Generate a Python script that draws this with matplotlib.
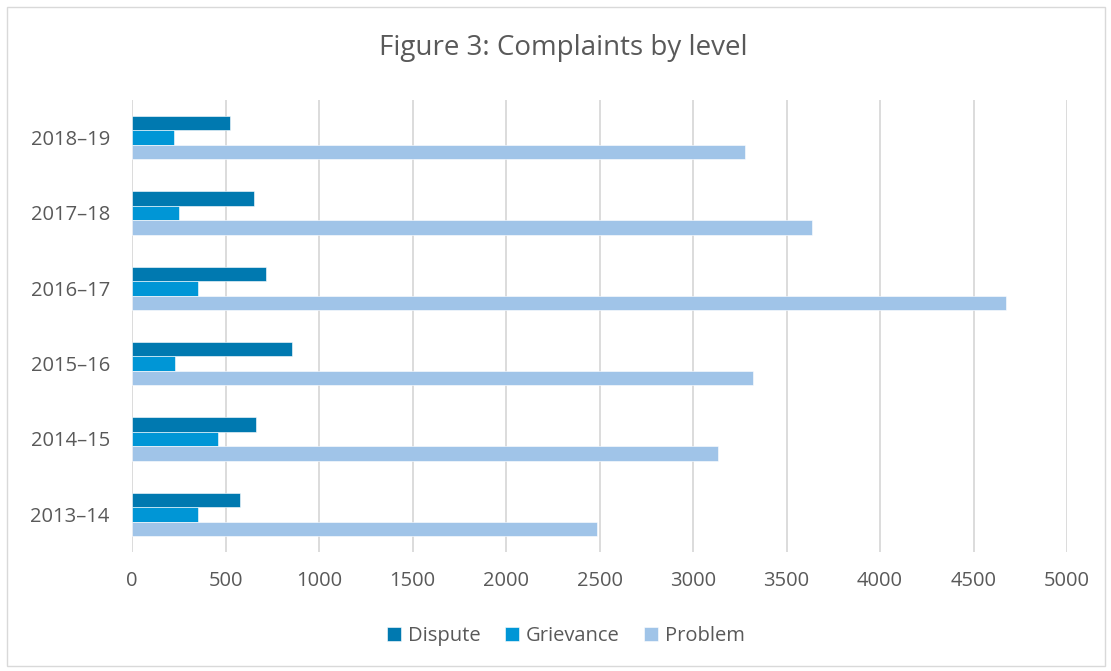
import matplotlib.pyplot as plt
from matplotlib.patches import Rectangle
import numpy as np

years = ["2013–14", "2014–15", "2015–16", "2016–17", "2017–18", "2018–19"]
dispute = [578, 664, 855, 714, 650, 525]
grievance = [352, 459, 230, 352, 253, 226]
problem = [2488, 3133, 3321, 4673, 3638, 3278]

colors = {"Dispute": "#0079B0", "Grievance": "#0096D6", "Problem": "#A0C4E8"}
text_col = "#595959"

plt.rcParams['font.family'] = ['Open Sans', 'DejaVu Sans']

fig = plt.figure(figsize=(11.11, 6.71), dpi=100)
ax = fig.add_axes([132/1111, 1-552/671, (1067-132)/1111, 452/671])

# chart border
fig.patches.append(Rectangle((7/1111, 5/671), 1098/1111, 659/671, transform=fig.transFigure,
                             fill=False, edgecolor="#D9D9D9", linewidth=1))

y = np.arange(len(years))
h = 0.192
ax.barh(y + h, dispute, height=h, color=colors["Dispute"], label="Dispute",
        edgecolor="white", linewidth=0.4)
ax.barh(y, grievance, height=h, color=colors["Grievance"], label="Grievance",
        edgecolor="white", linewidth=0.4)
ax.barh(y - h, problem, height=h, color=colors["Problem"], label="Problem",
        edgecolor="white", linewidth=0.4)

ax.set_xlim(0, 5000)
ax.set_ylim(-0.5, len(years) - 0.5)
ax.set_xticks(range(0, 5001, 500))
ax.set_yticks(y, years)
ax.grid(axis="x", color="#D9D9D9", linewidth=1.3)
ax.set_axisbelow(True)
for s in ax.spines.values():
    s.set_visible(False)
ax.tick_params(axis="both", length=0, labelsize=14.5, labelcolor=text_col)
ax.tick_params(axis="x", pad=14)
ax.tick_params(axis="y", pad=16)

fig.text(563/1111, 1-48/671, "Figure 3: Complaints by level", ha="center", va="center",
         fontsize=20, color=text_col)

fig.legend(loc="center", bbox_to_anchor=(566/1111, 1-636/671), ncol=3, frameon=False,
           fontsize=14.5, labelcolor=text_col, handlelength=0.7, handleheight=0.7,
           columnspacing=1.2, handletextpad=0.35)

fig.savefig("out.png", dpi=100)
